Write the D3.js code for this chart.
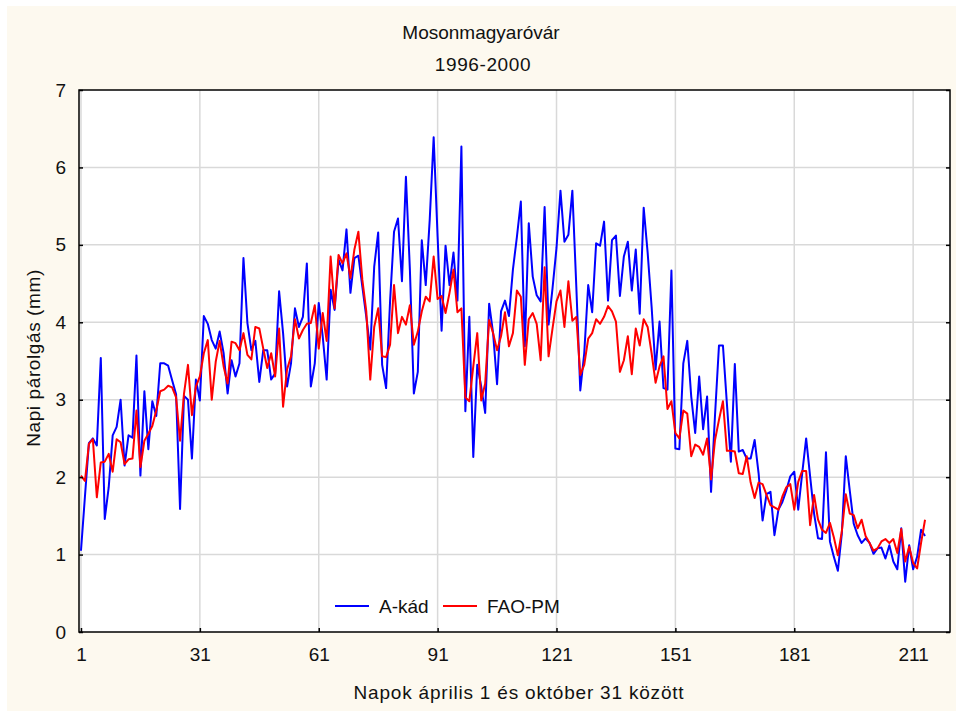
<!DOCTYPE html>
<meta charset="utf-8">
<style>

body {
  margin: 0;
  background: #fff;
}
svg text {
  font-family: "Liberation Sans", Arial, sans-serif;
  fill: #111;
}
.grid line {
  stroke: #d9d9d9;
  stroke-width: 1.5px;
}
.series {
  fill: none;
  stroke-width: 2px;
  stroke-linejoin: round;
}

</style>
<body>
<svg width="956" height="711"></svg>
<script src="https://cdn.jsdelivr.net/npm/d3@7/dist/d3.min.js"></script>
<script>

// daily evaporation (mm), day 1 = April 1 ... day 214 = October 31
var aKad = [
  1.05, 1.75, 2.44, 2.50, 2.41, 3.54, 1.46, 1.87, 2.54, 2.65,
  3.00, 2.15, 2.54, 2.51, 3.57, 2.02, 3.11, 2.36, 2.98, 2.79,
  3.47, 3.47, 3.44, 3.25, 3.07, 1.59, 3.05, 3.00, 2.24, 3.26,
  2.99, 4.08, 3.98, 3.77, 3.66, 3.88, 3.60, 3.08, 3.51, 3.30,
  3.47, 4.83, 3.99, 3.64, 3.76, 3.23, 3.64, 3.64, 3.26, 3.34,
  4.40, 3.86, 3.17, 3.47, 4.18, 3.94, 4.07, 4.76, 3.17, 3.47,
  4.25, 3.82, 3.26, 4.42, 4.16, 4.81, 4.67, 5.20, 4.38, 4.83,
  4.86, 4.46, 4.07, 3.65, 4.72, 5.16, 3.45, 3.15, 4.27, 5.17,
  5.34, 4.53, 5.88, 4.68, 3.08, 3.36, 5.06, 4.48, 5.32, 6.39,
  5.10, 3.89, 4.99, 4.48, 4.90, 4.28, 6.27, 2.85, 4.07, 2.26,
  3.45, 3.17, 2.83, 4.24, 3.86, 3.20, 4.14, 4.28, 4.08, 4.68,
  5.10, 5.56, 3.69, 5.28, 4.59, 4.35, 4.27, 5.49, 3.97, 4.44,
  4.96, 5.70, 5.04, 5.13, 5.70, 4.46, 3.12, 3.60, 4.48, 4.13,
  5.02, 4.99, 5.30, 4.28, 5.06, 5.12, 4.34, 4.85, 5.04, 4.41,
  4.94, 4.11, 5.48, 4.90, 4.20, 3.39, 4.01, 3.15, 3.13, 4.67,
  2.37, 2.36, 3.47, 3.76, 3.04, 2.57, 3.30, 2.62, 3.04, 1.81,
  2.80, 3.70, 3.70, 2.95, 2.20, 3.46, 2.33, 2.35, 2.24, 2.24,
  2.48, 2.05, 1.44, 1.78, 1.81, 1.25, 1.58, 1.68, 1.83, 2.01,
  2.07, 1.58, 2.05, 2.50, 2.01, 1.53, 1.21, 1.20, 2.32, 1.17,
  0.97, 0.79, 1.27, 2.27, 1.83, 1.40, 1.25, 1.15, 1.21, 1.15,
  1.01, 1.08, 1.09, 0.95, 1.12, 0.91, 0.81, 1.34, 0.65, 1.12,
  0.81, 0.97, 1.32, 1.24
];

var faoPm = [
  2.02, 1.95, 2.43, 2.49, 1.74, 2.19, 2.20, 2.30, 2.07, 2.49,
  2.45, 2.17, 2.23, 2.24, 2.86, 2.13, 2.47, 2.56, 2.66, 2.86,
  3.11, 3.13, 3.18, 3.16, 3.03, 2.47, 3.08, 3.45, 2.80, 3.17,
  3.30, 3.60, 3.77, 3.00, 3.49, 3.76, 3.43, 3.21, 3.75, 3.73,
  3.64, 3.86, 3.58, 3.52, 3.94, 3.92, 3.66, 3.41, 3.60, 3.30,
  3.92, 2.91, 3.39, 3.56, 4.04, 3.79, 3.90, 3.98, 3.99, 4.22,
  3.66, 4.12, 3.76, 4.85, 4.18, 4.87, 4.76, 4.89, 4.57, 4.94,
  5.17, 4.55, 4.14, 3.26, 3.94, 4.18, 3.56, 3.55, 3.71, 4.48,
  3.86, 4.07, 3.97, 4.22, 3.71, 3.88, 4.14, 4.33, 4.27, 4.85,
  4.30, 4.34, 4.12, 4.38, 4.68, 4.13, 4.18, 3.03, 2.98, 3.43,
  3.86, 2.99, 3.21, 4.03, 3.86, 3.64, 3.82, 4.13, 3.69, 3.86,
  4.41, 4.33, 3.45, 4.04, 4.12, 3.98, 3.51, 4.71, 3.56, 3.92,
  4.27, 4.41, 3.94, 4.53, 4.02, 4.07, 3.32, 3.45, 3.79, 3.86,
  4.04, 3.98, 4.07, 4.21, 4.14, 4.01, 3.36, 3.51, 3.82, 3.33,
  3.92, 3.70, 4.04, 3.94, 3.60, 3.22, 3.43, 3.56, 2.88, 2.98,
  2.57, 2.50, 2.86, 2.82, 2.27, 2.42, 2.39, 2.29, 2.50, 1.97,
  2.48, 2.74, 2.98, 2.34, 2.34, 2.33, 2.05, 2.04, 2.27, 1.93,
  1.73, 1.93, 1.91, 1.77, 1.64, 1.61, 1.58, 1.75, 1.87, 1.91,
  1.58, 1.94, 2.08, 2.08, 1.38, 1.77, 1.45, 1.32, 1.28, 1.41,
  1.22, 0.99, 1.30, 1.78, 1.53, 1.51, 1.34, 1.45, 1.24, 1.15,
  1.05, 1.08, 1.17, 1.20, 1.15, 1.20, 1.02, 1.33, 0.91, 1.10,
  0.89, 0.82, 1.15, 1.45
];

var xTicks = [1, 31, 61, 91, 121, 151, 181, 211];
var yTicks = [0, 1, 2, 3, 4, 5, 6, 7];
var seriesNames = ["A-kád", "FAO-PM"];
var seriesColors = ["#0000ff", "#ff0000"];

var svg = d3.select("svg"),
    width = +svg.attr("width"),
    height = +svg.attr("height");

// plot box (window.top is reserved, so keep these in an object)
var box = {left: 79, right: 950, top: 90, bottom: 632};

// cream page background
svg.append("rect")
    .attr("x", 7).attr("y", 6)
    .attr("width", width - 7).attr("height", height - 6)
    .attr("fill", "#fdf9ef");

svg.append("rect")
    .attr("x", box.left).attr("y", box.top)
    .attr("width", box.right - box.left).attr("height", box.bottom - box.top)
    .attr("fill", "#fff");

var x = d3.scaleLinear().domain([0.5, 220.3]).range([box.left, box.right]);
var y = d3.scaleLinear().domain([0, 7]).range([box.bottom, box.top]);

// grid
var grid = svg.append("g").attr("class", "grid");
grid.selectAll(".vx")
    .data(xTicks)
  .enter().append("line")
    .attr("x1", function(d) { return x(d); })
    .attr("x2", function(d) { return x(d); })
    .attr("y1", box.top).attr("y2", box.bottom);
grid.selectAll(".hy")
    .data(yTicks.slice(1, -1))
  .enter().append("line")
    .attr("x1", box.left).attr("x2", box.right)
    .attr("y1", function(d) { return y(d); })
    .attr("y2", function(d) { return y(d); });

// lines
var line = d3.line()
    .x(function(d, i) { return x(i + 1); })
    .y(function(d) { return y(d); });

svg.append("path")
    .datum(aKad)
    .attr("class", "series")
    .attr("stroke", seriesColors[0])
    .attr("d", line);

svg.append("path")
    .datum(faoPm)
    .attr("class", "series")
    .attr("stroke", seriesColors[1])
    .attr("d", line);

// frame
svg.append("rect")
    .attr("x", box.left).attr("y", box.top)
    .attr("width", box.right - box.left).attr("height", box.bottom - box.top)
    .attr("fill", "none")
    .attr("stroke", "#000")
    .attr("stroke-width", 1.5);

// axes, ticks pointing inward
var yAxis = svg.append("g")
    .attr("transform", "translate(" + box.left + ",0)")
    .call(d3.axisLeft(y).tickValues(yTicks).tickFormat(d3.format("d"))
      .tickSize(-4).tickPadding(13));
var yAxisR = svg.append("g")
    .attr("transform", "translate(" + box.right + ",0)")
    .call(d3.axisRight(y).tickValues(yTicks).tickSize(-4).tickFormat(""));
var xAxis = svg.append("g")
    .attr("transform", "translate(0," + box.bottom + ")")
    .call(d3.axisBottom(x).tickValues(xTicks).tickSize(-4).tickPadding(16));

[yAxis, yAxisR, xAxis].forEach(function(a) {
  a.select(".domain").remove();
  a.selectAll(".tick line").attr("stroke", "#000").attr("stroke-width", 1.5);
  a.selectAll("text").attr("font-size", 19).attr("fill", "#111")
      .attr("font-family", "Liberation Sans, Arial, sans-serif");
});

// titles
svg.append("text")
    .attr("x", 481).attr("y", 39)
    .attr("text-anchor", "middle")
    .attr("font-size", 19)
    .text("Mosonmagyaróvár");
svg.append("text")
    .attr("x", 483).attr("y", 71)
    .attr("text-anchor", "middle")
    .attr("font-size", 19)
    .attr("letter-spacing", 0.6)
    .text("1996-2000");
svg.append("text")
    .attr("x", 519).attr("y", 699)
    .attr("text-anchor", "middle")
    .attr("font-size", 19)
    .attr("letter-spacing", 0.8)
    .text("Napok április 1 és október 31 között");
svg.append("text")
    .attr("transform", "translate(40,358) rotate(-90)")
    .attr("text-anchor", "middle")
    .attr("font-size", 19)
    .attr("letter-spacing", 0.6)
    .text("Napi párolgás (mm)");

// legend
var legend = svg.append("g").selectAll("g")
    .data(seriesNames)
  .enter().append("g")
    .attr("transform", function(d, i) { return "translate(" + (335 + i * 108) + ",606)"; });
legend.append("line")
    .attr("x1", 0).attr("x2", 34)
    .attr("stroke", function(d, i) { return seriesColors[i]; })
    .attr("stroke-width", 2);
legend.append("text")
    .attr("x", 44).attr("y", 7)
    .attr("font-size", 19)
    .text(function(d) { return d; });

</script>
